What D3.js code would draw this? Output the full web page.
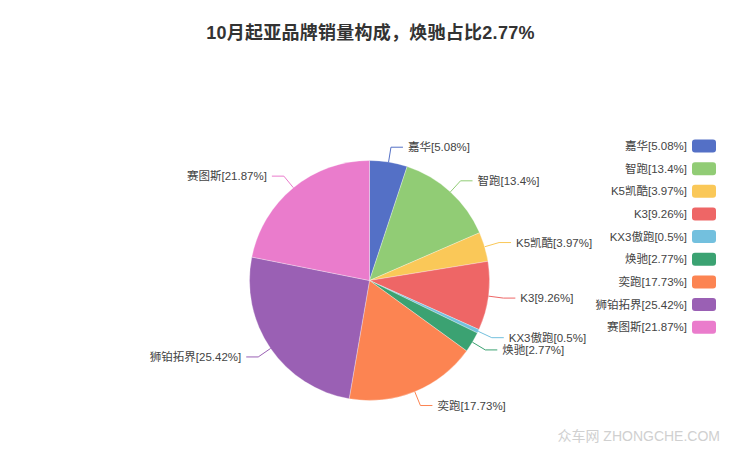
<!DOCTYPE html>
<html>
<head>
<meta charset="utf-8">
<script src="https://cdn.jsdelivr.net/npm/d3@7/dist/d3.min.js"></script>
<style>
  html, body { margin: 0; padding: 0; background: #fff; }
  svg { display: block; }
  text { font-family: "Liberation Sans", Arial, "Noto Sans CJK SC", sans-serif; }
</style>
</head>
<body>
<svg id="chart" width="740" height="455"></svg>
<script>
const title = "10月起亚品牌销量构成，焕驰占比2.77%";
const categories = ["嘉华", "智跑", "K5凯酷", "K3", "KX3傲跑", "焕驰", "奕跑", "狮铂拓界", "赛图斯"];
const values = [5.08, 13.4, 3.97, 9.26, 0.5, 2.77, 17.73, 25.42, 21.87];
const colors = ["#5470c6", "#91cc75", "#fac858", "#ee6666", "#73c0de", "#3ba272", "#fc8452", "#9a60b4", "#ea7ccc"];
const watermark = "众车网 ZHONGCHE.COM";

const svg = d3.select("#chart");
const cx = 369.5, cy = 280.5, R = 120;
const len1 = 15, len2 = 12, gap = 5;

const data = categories.map((c, i) => ({ name: c, value: values[i], color: colors[i], label: c + "[" + values[i] + "%]" }));

// title
svg.append("text")
  .attr("x", 370.5).attr("y", 39)
  .attr("text-anchor", "middle")
  .attr("font-size", 18).attr("font-weight", "bold")
  .attr("letter-spacing", 0.25)
  .attr("fill", "#333")
  .text(title);

const pie = d3.pie().value(d => d.value).sort(null);
const arcs = pie(data);
const arc = d3.arc().innerRadius(0).outerRadius(R);

const g = svg.append("g").attr("transform", `translate(${cx},${cy})`);

g.selectAll("path.slice").data(arcs).enter().append("path")
  .attr("class", "slice")
  .attr("d", arc)
  .attr("fill", d => d.data.color)
  .attr("stroke", "#fff").attr("stroke-width", 0.3);

// labels
arcs.forEach(a => {
  const mid = (a.startAngle + a.endAngle) / 2;
  const sx = Math.sin(mid), sy = -Math.cos(mid);
  const p0 = [R * sx, R * sy];
  const p1 = [(R + len1) * sx, (R + len1) * sy];
  const right = sx >= 0;
  const p2 = [p1[0] + (right ? len2 : -len2), p1[1]];
  g.append("polyline")
    .attr("points", [p0, p1, p2].map(p => p.join(",")).join(" "))
    .attr("fill", "none")
    .attr("stroke", a.data.color)
    .attr("stroke-width", 1);
  g.append("text")
    .attr("x", p2[0] + (right ? gap : -gap))
    .attr("y", p2[1])
    .attr("dy", "0.35em")
    .attr("text-anchor", right ? "start" : "end")
    .attr("font-size", 11.5)
    .attr("fill", "#444")
    .text(a.data.label);
});

// legend
const lg = svg.append("g");
const legY0 = 146, legStep = 22.65;
data.forEach((d, i) => {
  const y = legY0 + i * legStep;
  lg.append("rect")
    .attr("x", 692).attr("y", y - 6.5)
    .attr("width", 24).attr("height", 13)
    .attr("rx", 3).attr("ry", 3)
    .attr("fill", d.color);
  lg.append("text")
    .attr("x", 687).attr("y", y)
    .attr("dy", "0.35em")
    .attr("text-anchor", "end")
    .attr("font-size", 11.5)
    .attr("fill", "#444")
    .text(d.label);
});

// watermark
svg.append("text")
  .attr("x", 720).attr("y", 441)
  .attr("text-anchor", "end")
  .attr("font-size", 14)
  .attr("fill", "#d0d0d0")
  .text(watermark);
</script>
</body>
</html>
